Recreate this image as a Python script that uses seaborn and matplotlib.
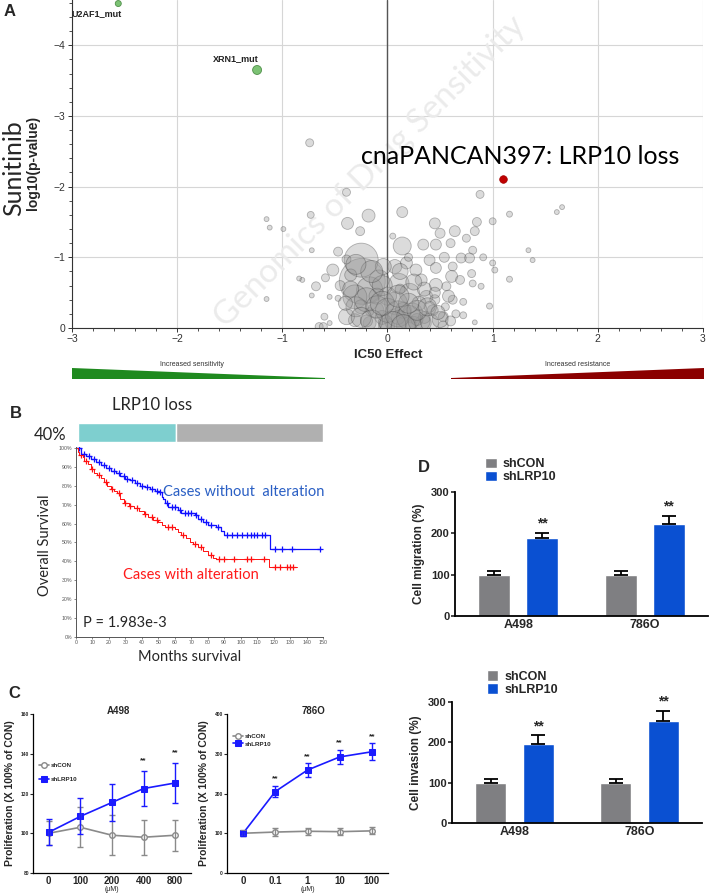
import numpy as np
import pandas as pd
import matplotlib
matplotlib.use("Agg")
import matplotlib.pyplot as plt
import seaborn as sns
from matplotlib.patches import Polygon
from matplotlib.ticker import AutoMinorLocator

# ---------------- data ----------------
# panel A: GDSC volcano (Sunitinib)
bub_x = [0.14, 0.45, 0.50, 0.64, 0.14, 0.88, 0.85, 1.00, 1.16, 0.83, 0.75, 0.60, 0.46, 0.34,
         0.81, 0.91, 0.78, 0.70, 0.54, 0.40, 0.62, 0.46, 0.61, 0.80, 0.69, 0.81, 0.89, 1.00,
         1.02, 0.97, 0.72, 0.62, 0.53, 0.43, 0.27, 0.18, 0.07, 0.11, 0.21, 0.08, 0.24, 0.08,
         -0.11, -0.17, -0.24, -0.25, -0.17, -0.31, -0.08, -0.04, -0.38, -0.26, -0.18, -0.47,
         -0.52, -0.39, -0.59, -0.68, -0.73, -0.72, -0.84, -0.81, -0.72, -0.55, -0.47, -0.60,
         -0.55, -0.65, -0.31, -0.17, -0.01, 0.18, 0.34, 0.53, 0.72, 0.37, 0.46, 0.32, 0.56,
         -0.39, 1.61, 1.66, 1.34, 1.38, 1.16, 0.83, -0.74, -0.39, -1.15, -1.12, -0.99, -1.15,
         -0.61, 0.00, -0.10, 0.30, 0.15, -0.05, 0.35, 0.45, -0.25, 0.25, -0.45, -0.35, 0.55,
         0.65, 0.20, 0.05, 0.10, 0.28, -0.02, 0.40, -0.20, 0.12,
         -0.30, -0.20, -0.10, 0.00, 0.10, 0.20, 0.30, 0.40, 0.50, -0.25, -0.15, 0.05, 0.15,
         0.28, 0.38, 0.48, 0.58, 0.35, 0.25, 0.12, -0.05, -0.15, -0.30, -0.35, -0.40, 0.60,
         0.45, 0.20, -0.05, 0.10]
bub_y = [-1.64, -1.48, -1.34, -1.37, -1.16, -1.89, -1.50, -1.51, -1.61, -1.37, -1.27, -1.20,
         -1.18, -1.18, -1.10, -1.00, -0.99, -0.99, -1.00, -0.96, -0.87, -0.85, -0.73, -0.77,
         -0.68, -0.63, -0.59, -0.92, -0.82, -0.31, -0.37, -0.40, -0.16, -0.25, -0.82, -0.92,
         -0.87, -0.63, -0.49, -0.35, -0.21, -0.11, -0.25, -0.23, -0.66, -0.96, -0.54, -0.44,
         -0.68, -0.87, -1.48, -1.37, -1.59, -1.08, -0.82, -0.97, -0.71, -0.59, -1.60, -1.10,
         -0.70, -0.68, -0.46, -0.44, -0.42, -0.16, -0.07, -0.02, -0.11, -0.07, -0.03, -0.04,
         -0.07, -0.03, -0.18, -0.44, -0.61, -0.68, -0.59, -0.16, -1.64, -1.71, -1.10, -0.96,
         -0.69, -0.08, -2.62, -1.92, -1.54, -1.42, -1.40, -0.41, -0.02, -0.45, -0.45, -0.35,
         -0.25, -0.15, -0.15, -0.40, -0.30, -0.05, -0.60, -0.75, -0.30, -0.20, -1.00, -1.30,
         -0.15, -0.12, -0.08, -0.30, -0.10, -0.55,
         -0.30, -0.40, -0.30, -0.25, -0.20, -0.15, -0.10, -0.08, -0.12, -0.15, -0.10, -0.05,
         -0.02, -0.25, -0.30, -0.22, -0.45, -0.55, -0.65, -0.80, -0.60, -0.80, -0.90, -0.55,
         -0.35, -0.10, -0.50, -0.35, -0.35, -0.45]
bub_n = [30, 30, 25, 30, 81, 16, 20, 12, 9, 20, 16, 20, 30, 30, 16, 12, 25, 25, 25, 30, 20,
         30, 36, 16, 20, 12, 9, 9, 9, 9, 12, 20, 25, 30, 36, 36, 49, 100, 100, 132, 100, 132,
         64, 16, 529, 289, 169, 144, 100, 64, 36, 20, 42, 20, 36, 20, 16, 20, 12, 6, 6, 6, 6,
         6, 9, 12, 6, 16, 42, 42, 64, 100, 64, 25, 12, 42, 42, 36, 20, 64, 6, 6, 6, 6, 9, 6,
         16, 16, 6, 6, 6, 6, 16, 81, 64, 49, 64, 49, 36, 25, 49, 64, 25, 36, 16, 16, 16, 9,
         49, 36, 49, 30, 36, 25,
         100, 144, 121, 144, 169, 144, 121, 81, 64, 100, 121, 169, 144, 100, 81, 49, 36, 49,
         64, 64, 100, 121, 100, 64, 49, 25, 30, 100, 144, 121]

hit_x = [-2.56, -1.24]
hit_y = [-4.59, -3.65]
hit_n = [9, 20]
hit_lab = ["U2AF1_mut", "XRN1_mut"]
lrp_x, lrp_y = [1.10], [-2.11]

# panel B: Kaplan-Meier
alt_pct = 40
km_blue_t = [0, 3, 6, 9, 12, 15, 18, 21, 24, 27, 30, 33, 36, 39, 42, 45, 48, 50, 52, 53, 54,
             56, 62, 64, 72, 74, 77, 80, 85, 88, 90, 118, 149]
km_blue_s = [100, 97, 95.5, 94, 92.5, 91, 89.5, 88, 86.5, 85, 83.5, 83, 81.5, 80, 79.5, 78.5,
             77, 76.5, 74, 73, 71, 68.5, 67, 65.5, 64.5, 62.5, 61, 59.5, 58, 56, 54, 46.5, 46.5]
km_red_t = [0, 1, 2, 4, 5, 7, 9, 11, 13, 15, 17, 19, 21, 23, 25, 27, 29, 32, 35, 38, 41, 44,
            47, 50, 52, 54, 60, 62, 64, 67, 69, 71, 74, 77, 80, 83, 85, 117, 134]
km_red_s = [100, 98, 96.5, 95, 93, 91.5, 89, 87, 85.5, 84, 82, 80, 78.5, 77, 76, 73, 71, 69.5,
            68, 66.5, 65, 63.5, 62, 61, 59.5, 58, 57, 55.5, 54, 52.5, 50.5, 49, 47.5, 45.5,
            43.5, 42, 41, 37.2, 37.2]
cens_blue = [2, 5, 8, 11, 14, 17, 20, 23, 26, 29, 31, 34, 37, 40, 43, 46, 49, 51, 55, 58, 60,
             63, 66, 68, 70, 73, 76, 79, 82, 86, 92, 95, 98, 101, 104, 106, 108, 110, 113, 115,
             121, 125, 131, 148]
cens_red = [3, 6, 10, 14, 18, 22, 26, 30, 33, 37, 42, 46, 49, 56, 58, 65, 72, 76, 82, 87, 90,
            96, 104, 106, 114, 121, 124, 128, 130, 132]

# panel C: proliferation
dose_a498 = ["0", "100", "200", "400", "800"]
a498_con = [100, 103, 99, 98, 99]
a498_con_sd = [6, 10, 10, 8.7, 7.7]
a498_lrp = [100.5, 108.5, 115.5, 122.5, 125.3]
a498_lrp_sd = [6.5, 9, 9.5, 9, 10.2]
a498_sig = [False, False, False, True, True]

dose_786 = ["0", "0.1", "1", "10", "100"]
o786_con = [100, 103, 105, 104, 106]
o786_con_sd = [7, 9, 9, 8, 9]
o786_lrp = [100, 205, 259, 292, 305]
o786_lrp_sd = [6, 15, 17, 18, 21]
o786_sig = [False, True, True, True, True]

# panel D: migration / invasion
cells = ["A498", "786O"]
mig_con = [100, 100]
mig_con_sd = [10, 8]
mig_lrp = [188, 222]
mig_lrp_sd = [13, 20]
inv_con = [100, 100]
inv_con_sd = [9, 8]
inv_lrp = [195, 254]
inv_lrp_sd = [22, 24]

# ---------------- figure ----------------
W, H = 709, 894
sns.set_theme(style="ticks")
plt.rcParams['font.family'] = ['Liberation Sans', 'DejaVu Sans']
fig = plt.figure(figsize=(W / 100, H / 100), dpi=100)


def axes_px(l, t, r, b):
    return fig.add_axes([l / W, 1 - b / H, (r - l) / W, (b - t) / H])


def ftext(x, y, s, **kw):
    fig.text(x / W, 1 - y / H, s, **kw)


def fpoly(pts, color):
    fig.add_artist(Polygon([(x / W, 1 - y / H) for x, y in pts], closed=True,
                           facecolor=color, edgecolor='none', transform=fig.transFigure))


CAL = ['Lato', 'DejaVu Sans']

# ---- A ----
axA = axes_px(72, 0, 703, 328)
df_bub = pd.DataFrame({'effect': bub_x, 'logp': bub_y, 'n': bub_n})
nmax = max(bub_n)
sns.scatterplot(data=df_bub, x='effect', y='logp', size='n', sizes=(0, 2.07 * nmax),
                size_norm=(0, nmax), color='#999999', alpha=0.35, edgecolor='#333333',
                linewidth=0.6, legend=False, ax=axA, zorder=3)
sns.scatterplot(x=hit_x, y=hit_y, size=hit_n, sizes=(2.07 * 9, 2.07 * 20), size_norm=(9, 20),
                color='#7cc274', edgecolor='#4f8f49', linewidth=0.6, legend=False, ax=axA,
                zorder=4, clip_on=False)
sns.scatterplot(x=lrp_x, y=lrp_y, s=30, color='#c00000', edgecolor='#a00000', linewidth=0.5,
                legend=False, ax=axA, zorder=4)
axA.set_xlim(-3, 3)
axA.set_ylim(0, -4.64)
axA.set_xticks(range(-3, 4))
axA.set_yticks([0, -1, -2, -3, -4])
axA.set_xticklabels(['\u22123', '\u22122', '\u22121', '0', '1', '2', '3'])
axA.set_yticklabels(['0', '\u22121', '\u22122', '\u22123', '\u22124'])
axA.xaxis.set_minor_locator(AutoMinorLocator(5))
axA.yaxis.set_minor_locator(AutoMinorLocator(5))
axA.grid(True, which='major', color='#d6d6d6', lw=0.8)
axA.set_axisbelow(True)
axA.axvline(0, color='#555555', lw=1.0, zorder=2)
for sp in ['top', 'right']:
    axA.spines[sp].set_visible(False)
for sp in ['left', 'bottom']:
    axA.spines[sp].set_color('#333333')
    axA.spines[sp].set_linewidth(0.8)
axA.tick_params(which='major', length=3, width=0.7, labelsize=7.5, colors='#333333', pad=1.5)
axA.tick_params(which='minor', length=2, width=0.6, colors='#333333')
axA.set_xlabel('')
axA.set_ylabel('')
axA.text(-0.17, -2.21, 'Genomics of Drug Sensitivity', rotation=45, ha='center', va='center',
         fontsize=24, color='#ebebeb', family=CAL, zorder=1)
axA.text(-3.0, -4.45, hit_lab[0], fontsize=6.5, fontweight='bold', ha='left', va='center',
         color='#222222')
axA.text(-1.66, -3.81, hit_lab[1], fontsize=6.5, fontweight='bold', ha='left', va='center',
         color='#222222')
axA.text(-0.25, -2.42, 'cnaPANCAN397: LRP10 loss', fontsize=18, ha='left', va='center',
         family=CAL, color='black', zorder=5)

ftext(4, 12, 'A', fontsize=12, fontweight='bold', va='center')
ftext(14, 168, 'Sunitinib', fontsize=18, rotation=90, ha='center', va='center', family=CAL)
ftext(33, 163, 'log10(p-value)', fontsize=10, fontweight='bold', rotation=90, ha='center',
      va='center')
ftext(388, 355, 'IC50 Effect', fontsize=9.5, fontweight='bold', ha='center', va='center')
ftext(192, 365, 'Increased sensitivity', fontsize=5, ha='center', va='center', color='#333333')
ftext(578, 365, 'Increased resistance', fontsize=5, ha='center', va='center', color='#333333')
fpoly([(72, 368), (325, 378), (325, 379), (72, 379)], '#1f8a1f')
fpoly([(451, 378), (704, 368), (704, 379), (451, 379)], '#8b0000')

# ---- B ----
ftext(10, 413, 'B', fontsize=12, fontweight='bold', va='center')
ftext(152, 405, 'LRP10 loss', fontsize=12, ha='center', va='center', family=CAL)
ftext(66, 435, f'{alt_pct}%', fontsize=12, ha='right', va='center', family=CAL)
axBar = axes_px(78, 423, 323, 442)
axBar.barh([0], [alt_pct], height=1, color='#7ecfcf')
axBar.barh([0], [100 - alt_pct], left=[alt_pct], height=1, color='#b0b0b0')
axBar.set_xlim(0, 100)
axBar.set_ylim(-0.5, 0.5)
axBar.set_axis_off()

axKM = axes_px(76, 447, 323, 637)


def surv_at(ts, ss, c):
    idx = np.searchsorted(ts, c, side='right') - 1
    return np.asarray(ss)[idx]


for ts, ss, cens, col, lw in [(km_blue_t, km_blue_s, cens_blue, '#1010ff', 0.9),
                              (km_red_t, km_red_s, cens_red, '#ff1010', 0.7)]:
    sns.lineplot(x=ts, y=ss, drawstyle='steps-post', color=col, lw=lw, ax=axKM)
    sns.scatterplot(x=cens, y=surv_at(ts, ss, cens), marker='+', s=14, color=col,
                    linewidth=0.9, ax=axKM, legend=False)
axKM.set_xlim(0, 150)
axKM.set_ylim(0, 100.5)
axKM.set_xticks(range(0, 151, 10))
axKM.set_yticks(range(0, 101, 10))
axKM.set_yticklabels([f'{v}%' for v in range(0, 101, 10)])
axKM.tick_params(labelsize=3.8, length=1.5, width=0.5, colors='#555555', pad=1)
for sp in ['top', 'right']:
    axKM.spines[sp].set_visible(False)
for sp in ['left', 'bottom']:
    axKM.spines[sp].set_color('#555555')
    axKM.spines[sp].set_linewidth(0.7)
axKM.set_xlabel('')
axKM.set_ylabel('')
ftext(163, 492, 'Cases without  alteration', fontsize=10.5, color='#2a5fc4', family=CAL,
      va='center')
ftext(123, 575, 'Cases with alteration', fontsize=10.5, color='#ff1a1a', family=CAL,
      va='center')
ftext(83, 623, 'P = 1.983e-3', fontsize=10.5, family=CAL, va='center')
ftext(45, 545, 'Overall Survival', fontsize=10.5, rotation=90, family=CAL, ha='center',
      va='center')
ftext(190, 657, 'Months survival', fontsize=10.5, family=CAL, ha='center', va='center')

# ---- C ----
ftext(8, 693, 'C', fontsize=12, fontweight='bold', va='center')
CON_C, LRP_C = '#8a8a8a', '#1a1aff'


def prolif_panel(ax, doses, con, con_sd, lrp, lrp_sd, sig, ymax, ystep, title, leg_y, leg_sp):
    pos = np.arange(len(doses))
    sns.lineplot(x=pos, y=con, color=CON_C, marker='o', markersize=4, markerfacecolor='white',
                 markeredgecolor=CON_C, markeredgewidth=1, lw=1.2, label='shCON', ax=ax)
    sns.lineplot(x=pos, y=lrp, color=LRP_C, marker='s', markersize=4, markerfacecolor=LRP_C,
                 markeredgecolor=LRP_C, lw=1.2, label='shLRP10', ax=ax)
    ax.errorbar(pos, con, yerr=con_sd, fmt='none', ecolor=CON_C, elinewidth=1, capsize=2.5,
                capthick=1)
    ax.errorbar(pos, lrp, yerr=lrp_sd, fmt='none', ecolor=LRP_C, elinewidth=1, capsize=2.5,
                capthick=1)
    tops = np.array(lrp) + np.array(lrp_sd)
    for p, t, s in zip(pos, tops, sig):
        if s:
            ax.text(p, t + ymax * 0.02, '**', ha='center', va='bottom', fontsize=6,
                    fontweight='bold')
    ax.set_xlim(-0.5, len(doses) - 0.5)
    ax.set_ylim(ymax - 4 * ystep, ymax)
    ax.set_yticks(np.arange(ymax - 4 * ystep, ymax + 1, ystep))
    ax.set_xticks(pos)
    ax.set_xticklabels(doses, fontweight='bold', fontsize=7)
    ax.tick_params(axis='y', labelsize=3.5, length=2, width=0.8, pad=1)
    ax.tick_params(axis='x', length=0, pad=2)
    for lbl in ax.get_yticklabels():
        lbl.set_fontweight('bold')
    sns.despine(ax=ax)
    for sp in ['left', 'bottom']:
        ax.spines[sp].set_linewidth(0.9)
        ax.spines[sp].set_color('black')
    ax.set_xlabel('(\u03bcM)', fontsize=5, labelpad=0.5)
    ax.set_ylabel('Proliferation (X 100% of CON)', fontsize=7.5, fontweight='bold', labelpad=4)
    ax.text(0.54, 1.02, title, transform=ax.transAxes, ha='center', va='center', fontsize=7,
            fontweight='bold')
    handles, labels = ax.get_legend_handles_labels()
    ax.legend(handles, labels, loc='upper left', bbox_to_anchor=(0.02, leg_y), frameon=False,
              prop={'weight': 'bold', 'size': 4.5}, handlelength=1.6,
              labelspacing=leg_sp, borderaxespad=0, handletextpad=0.4)


axC1 = axes_px(33, 714, 191, 873)
prolif_panel(axC1, dose_a498, a498_con, a498_con_sd, a498_lrp, a498_lrp_sd, a498_sig,
             160, 20, 'A498', 0.71, 1.4)
axC2 = axes_px(227, 714, 388, 873)
prolif_panel(axC2, dose_786, o786_con, o786_con_sd, o786_lrp, o786_lrp_sd, o786_sig,
             400, 100, '786O', 0.89, 0.3)

# ---- D ----
ftext(418, 467, 'D', fontsize=12, fontweight='bold', va='center')
bar_pal = {'shCON': '#7f7f82', 'shLRP10': '#0a50d2'}


def bar_panel(ax, con, con_sd, lrp, lrp_sd, ylabel, leg_x, leg_y):
    df = pd.DataFrame({'cell': cells * 2, 'group': ['shCON'] * 2 + ['shLRP10'] * 2,
                       'value': con + lrp})
    sns.barplot(data=df, x='cell', y='value', hue='group', palette=bar_pal, width=0.76,
                gap=0.34, errorbar=None, saturation=1, ax=ax)
    for cont, vals, err, star in zip(ax.containers, [con, lrp], [con_sd, lrp_sd],
                                     [False, True]):
        xs = [p.get_x() + p.get_width() / 2 for p in cont]
        ax.errorbar(xs, vals, yerr=[np.zeros(len(err)), err], fmt='none', ecolor='black',
                    elinewidth=1.3, capsize=5, capthick=1.3)
        if star:
            for x, v, e in zip(xs, vals, err):
                ax.text(x, v + e + 6, '**', ha='center', va='bottom', fontsize=10,
                        fontweight='bold')
    ax.set_xlim(-0.5, 1.5)
    ax.set_ylim(0, 300)
    ax.set_yticks([0, 100, 200, 300])
    ax.set_xlabel('')
    ax.set_ylabel(ylabel, fontsize=8.5, fontweight='bold', labelpad=4)
    ax.tick_params(axis='y', labelsize=8, length=3, width=1.2, pad=1)
    ax.tick_params(axis='x', labelsize=9, length=0, pad=2)
    for lbl in ax.get_xticklabels() + ax.get_yticklabels():
        lbl.set_fontweight('bold')
    sns.despine(ax=ax)
    for sp in ['left', 'bottom']:
        ax.spines[sp].set_linewidth(1.3)
        ax.spines[sp].set_color('black')
    handles, labels = ax.get_legend_handles_labels()
    ax.legend(handles, labels, loc='lower left', bbox_to_anchor=(leg_x, leg_y), frameon=False,
              prop={'weight': 'bold', 'size': 9}, handlelength=0.9, handleheight=0.9,
              labelspacing=0.05, borderaxespad=0, borderpad=0, handletextpad=0.5)


axD1 = axes_px(455, 492, 708, 616)
bar_panel(axD1, mig_con, mig_con_sd, mig_lrp, mig_lrp_sd, 'Cell migration (%)', 0.12, 1.07)
axD2 = axes_px(452, 702, 702, 823)
bar_panel(axD2, inv_con, inv_con_sd, inv_lrp, inv_lrp_sd, 'Cell invasion (%)', 0.14, 1.05)

fig.savefig('out.png', dpi=100)
